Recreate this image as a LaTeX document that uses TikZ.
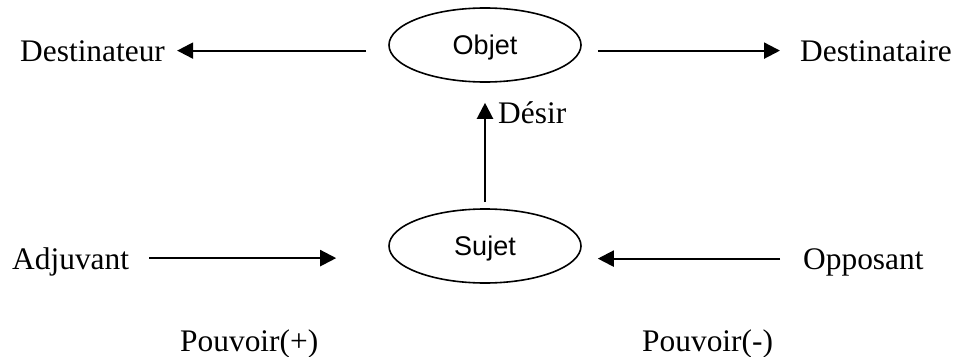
\documentclass[tikz,border=0pt]{standalone}
\usepackage{fontspec}
\setmainfont{Liberation Serif}
\newfontfamily\ellfont{Liberation Sans}
\usetikzlibrary{shapes.geometric,arrows.meta}
\begin{document}
\begin{tikzpicture}[x=1pt,y=-1pt,
  actant/.style={anchor=base west,inner sep=0pt,text depth=0pt,
    font=\fontsize{31.4}{36}\selectfont},
  pole/.style={draw,ellipse,line width=1.6pt,minimum width=192pt,
    minimum height=74pt,inner sep=0pt,text depth=0pt,
    font=\ellfont\fontsize{27}{30}\selectfont},
  link/.style={line width=2.2pt,-{Triangle[length=16pt,width=16pt]}}]
\useasboundingbox (0,0) rectangle (955,356);

% the two poles of the scheme
\node[pole] (objet) at (485,45) {Objet};
\node[pole] (sujet) at (485,246) {Sujet};

% actants around them
\node[actant] (dest)  at (20,61)  {Destinateur};
\node[actant] (dstn)  at (800,61) {Destinataire};
\node[actant] (desir) at (498,123) {Désir};
\node[actant] (adj)   at (12,269) {Adjuvant};
\node[actant] (opp)   at (803,269) {Opposant};
\node[actant] (pplus) at (180,351) {Pouvoir(+)};
\node[actant] (pmoins) at (642,351) {Pouvoir(-)};

% axis of communication
\draw[link,shorten <=22pt,shorten >=12pt] (dest.east -| objet.west) -- (dest.east);
\draw[link,shorten <=16pt,shorten >=20pt] (objet.east |- dstn.west) -- (dstn.west);
% axis of desire
\draw[link,shorten <=6pt,shorten >=20pt] (sujet.north) -- (objet.south);
% axis of power
\draw[link,shorten <=20pt,shorten >=52pt] (adj.east) -- (adj.east -| sujet.west);
\draw[link,shorten <=23pt,shorten >=16pt] (opp.west) -- (opp.west -| sujet.east);
\end{tikzpicture}
\end{document}
